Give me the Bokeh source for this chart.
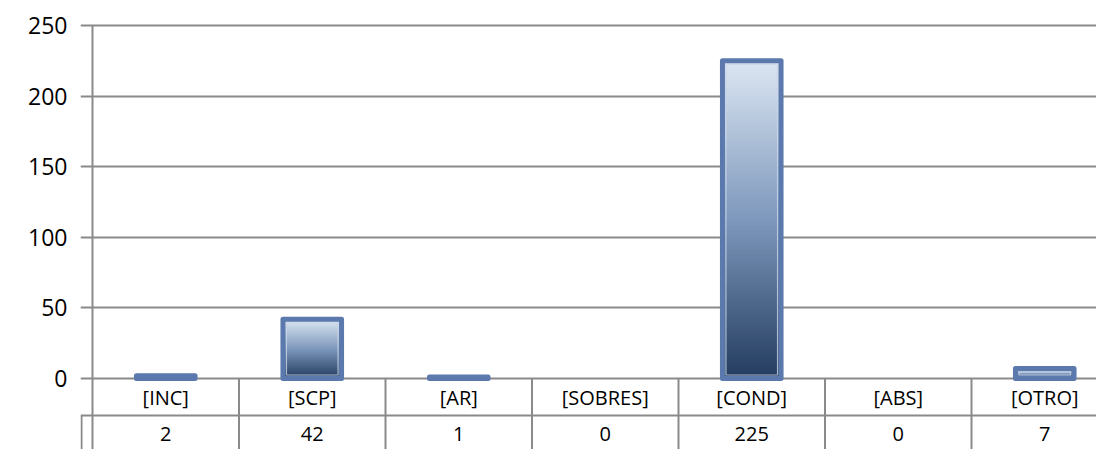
from bokeh.plotting import figure
from bokeh.models import Range1d, LinearAxis, FixedTicker, Grid
from bokeh.core.properties import value
from bokeh.embed import file_html
from bokeh.resources import INLINE

# ---- data ----
categories = ["[INC]", "[SCP]", "[AR]", "[SOBRES]", "[COND]", "[ABS]", "[OTRO]"]
counts = [2, 42, 1, 0, 225, 0, 7]
y_ticks = [0, 50, 100, 150, 200, 250]

# ---- layout constants ----
W, H = 1096, 449
CAT_PX = 146.5          # pixels per category
Y_PX = 353 / 250        # pixels per unit
LEFT_STUB = 12          # table stub left of the axis
FRAME_LEFT = 80
TOP_PAD = 3             # px of frame above the 250 gridline
FRAME_TOP = 25 - TOP_PAD
frame_w = W - FRAME_LEFT
frame_h = H - FRAME_TOP
x_start = -LEFT_STUB / CAT_PX
x_end = x_start + frame_w / CAT_PX
y_max = max(y_ticks)
y_end = y_max + TOP_PAD / Y_PX
y_start = y_end - frame_h / Y_PX

GRAY = "#8a8a8a"
BORDER = "#5b79ac"
FONT = value("Open Sans")

p = figure(width=W, height=H, output_backend="svg", toolbar_location=None,
           x_range=Range1d(x_start, x_end), y_range=Range1d(y_start, y_end),
           x_axis_location=None, y_axis_location=None,
           min_border_left=FRAME_LEFT, min_border_right=0,
           min_border_top=FRAME_TOP, min_border_bottom=0)
p.outline_line_color = None
p.background_fill_color = "white"
p.border_fill_color = "white"
p.grid.visible = False

yaxis = LinearAxis(ticker=FixedTicker(ticks=y_ticks))
yaxis.axis_line_color = None
yaxis.major_tick_line_color = None
yaxis.major_tick_out = 0
yaxis.major_tick_in = 0
yaxis.minor_tick_line_color = None
yaxis.major_label_text_font = "Open Sans"
yaxis.major_label_text_font_size = "23px"
yaxis.major_label_text_color = "black"
yaxis.major_label_standoff = 13
p.add_layout(yaxis, "left")

grid = Grid(dimension=1, ticker=yaxis.ticker, grid_line_color=GRAY, grid_line_width=2)
p.add_layout(grid, "center")

# value axis line at x = 0, from the top gridline down through the table
p.segment(x0=[0], y0=[y_start], x1=[0], y1=[y_max], line_color=GRAY, line_width=2)

# ---- gradient bars ----
stops = [(0.0, (35, 60, 95)), (0.5, (125, 152, 188)), (1.0, (220, 230, 242))]


def grad(t):
    for (t0, c0), (t1, c1) in zip(stops[:-1], stops[1:]):
        if t <= t1:
            f = (t - t0) / (t1 - t0)
            return "#%02x%02x%02x" % tuple(int(round(a + (b - a) * f)) for a, b in zip(c0, c1))
    return "#%02x%02x%02x" % stops[-1][1]


N = 120
gx, gb, gt, gc = [], [], [], []
for i, v in enumerate(counts):
    if v <= 0:
        continue
    for j in range(N):
        gx.append(i + 0.5)
        gb.append(v * j / N)
        gt.append(v)
        gc.append(grad((j + 0.5) / N))
p.vbar(x=gx, bottom=gb, top=gt, width=0.4, fill_color=gc, line_color=None)

xs = [i + 0.5 for i in range(len(categories))]

# thin light inner highlight just inside the border
INSET = 3.5
hx, hb, ht = [], [], []
for i, v in enumerate(counts):
    b = INSET / Y_PX
    t = v - INSET / Y_PX
    if t > b:
        hx.append(i + 0.5)
        hb.append(b)
        ht.append(t)
p.vbar(x=hx, bottom=hb, top=ht, width=0.4 - 2 * INSET / CAT_PX, fill_color=None,
       line_color="#c9d6ea", line_width=1.2, line_alpha=0.8)

alphas = [1.0 if v > 0 else 0.0 for v in counts]
p.vbar(x=xs, bottom=0, top=counts, width=0.4, fill_color=None,
       line_color=BORDER, line_width=5, line_alpha=alphas, line_join="round")

# ---- data table below axis ----
row1_bottom = -(415 - 378) / Y_PX
cat_y = -(397 - 378) / Y_PX
val_y = -(433 - 378) / Y_PX

seps = list(range(1, len(categories) + 1))
p.segment(x0=seps, y0=[0] * len(seps), x1=seps, y1=[y_start] * len(seps),
          line_color=GRAY, line_width=2)
p.segment(x0=[x_start], y0=[row1_bottom], x1=[x_end], y1=[row1_bottom],
          line_color=GRAY, line_width=2)
stub_x = x_start + 1 / CAT_PX
p.segment(x0=[stub_x], y0=[row1_bottom], x1=[stub_x], y1=[y_start],
          line_color=GRAY, line_width=2)

p.text(x=xs, y=[cat_y] * len(xs), text=categories, text_font=FONT,
       text_font_size="20px", text_align="center", text_baseline="middle",
       text_color="black")
p.text(x=xs, y=[val_y] * len(xs), text=[str(v) for v in counts], text_font=FONT,
       text_font_size="20px", text_align="center", text_baseline="middle",
       text_color="black")

open("out.html", "w").write(file_html(p, INLINE))
